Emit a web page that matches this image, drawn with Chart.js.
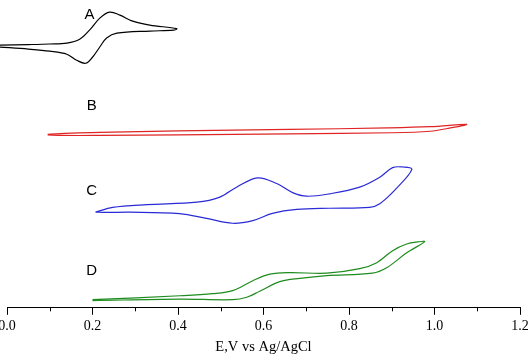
<!DOCTYPE html>
<html>
<head>
<meta charset="utf-8">
<script src="https://cdn.jsdelivr.net/npm/chart.js@4.4.1/dist/chart.umd.min.js"></script>
<style>
  body { margin: 0; background: #fff; }
</style>
</head>
<body>
<canvas id="cvChart" width="530" height="358"></canvas>
<script>
// Curve A (black)
var aX = [-0.017, 0.05, 0.10, 0.14, 0.17, 0.193, 0.217, 0.240, 0.264, 0.294, 0.334, 0.397,
          0.39, 0.334, 0.257, 0.233, 0.217, 0.200, 0.184, 0.163, 0.14, 0.10, 0.05, -0.017];
var aY = [87.3, 87.5, 87.7, 88.0, 89.3, 92.3, 96.3, 98.3, 97.3, 95.3, 94.0, 92.8,
          92.3, 92.0, 91.3, 89.7, 86.7, 83.3, 81.3, 82.3, 84.3, 85.3, 86.0, 86.7];

// Curve B (red)
var bX = [0.095, 0.15, 0.217, 0.40, 0.661, 0.89, 0.99, 1.075,
          1.03, 0.99, 0.90, 0.661, 0.40, 0.217, 0.13, 0.095];
var bY = [57.7, 58.1, 58.3, 58.8, 59.3, 59.8, 60.2, 61.0,
          59.6, 58.7, 58.2, 57.8, 57.5, 57.3, 57.3, 57.5];

// Curve C (blue)
var cX = [0.207, 0.247, 0.327, 0.444, 0.498, 0.537, 0.586, 0.631, 0.668, 0.701, 0.755, 0.825, 0.872, 0.902, 0.926, 0.947,
          0.911, 0.872, 0.848, 0.755, 0.678, 0.621, 0.575, 0.528, 0.467, 0.404, 0.287, 0.23, 0.207];
var cY = [31.8, 33.4, 34.3, 35.1, 36.8, 40.1, 43.2, 41.3, 38.3, 37.1, 37.9, 40.1, 43.4, 46.6, 46.8, 46.0,
          39.7, 34.6, 33.4, 33.1, 32.7, 31.4, 29.0, 28.1, 29.7, 31.3, 31.8, 31.7, 31.8];

// Curve D (green)
var dX = [0.2, 0.404, 0.481, 0.528, 0.575, 0.615, 0.661, 0.748, 0.825, 0.865, 0.902, 0.935, 0.961, 0.977,
          0.935, 0.888, 0.855, 0.748, 0.685, 0.638, 0.591, 0.561, 0.528, 0.404, 0.2];
var dY = [2.7, 4.0, 4.7, 5.7, 9.0, 11.2, 11.7, 11.5, 13.0, 15.0, 19.0, 21.2, 21.9, 22.0,
          18.3, 13.3, 11.5, 10.7, 9.8, 8.7, 5.5, 3.5, 2.7, 2.9, 2.4];

var xTicks = [0.0, 0.2, 0.4, 0.6, 0.8, 1.0, 1.2];
var xMinorTicks = [0.1, 0.3, 0.5, 0.7, 0.9, 1.1];

var curveNames = ['A', 'B', 'C', 'D'];
var nameX = [0.193, 0.198, 0.198, 0.198];
var nameY = [97.3, 67.0, 39.0, 12.3];

function toPoints(xs, ys) {
    return xs.map(function(x, i) { return { x: x, y: ys[i] }; });
}

function curve(xs, ys, color) {
    return {
        data: toPoints(xs, ys),
        showLine: true,
        borderColor: color,
        borderWidth: 1.2,
        pointRadius: 0,
        tension: 0.35,
        clip: false
    };
}

// minor ticks on x axis + curve names
var extras = {
    id: 'extras',
    afterDraw: function(chart) {
        var ctx = chart.ctx;
        var xs = chart.scales.x;
        var ys = chart.scales.y;
        var bottom = chart.chartArea.bottom;
        ctx.save();
        ctx.strokeStyle = '#000';
        ctx.lineWidth = 1;
        xMinorTicks.forEach(function(v) {
            var px = Math.round(xs.getPixelForValue(v)) + 0.5;
            ctx.beginPath();
            ctx.moveTo(px, bottom);
            ctx.lineTo(px, bottom + 3.5);
            ctx.stroke();
        });
        ctx.fillStyle = '#000';
        ctx.font = '15px "Liberation Sans", Arial, sans-serif';
        ctx.textAlign = 'center';
        ctx.textBaseline = 'middle';
        curveNames.forEach(function(n, i) {
            ctx.fillText(n, xs.getPixelForValue(nameX[i]), ys.getPixelForValue(nameY[i]));
        });
        ctx.restore();
    }
};

var ctx = document.getElementById('cvChart').getContext('2d');
var myChart = new Chart(ctx, {
    type: 'scatter',
    data: {
        datasets: [
            curve(aX, aY, '#000000'),
            curve(bX, bY, '#e02424'),
            curve(cX, cY, '#2a2ad6'),
            curve(dX, dY, '#1e8c1e')
        ]
    },
    options: {
        responsive: false,
        animation: false,
        layout: { padding: { left: 7, right: 10, top: 7, bottom: 2 } },
        plugins: {
            legend: { display: false },
            tooltip: { enabled: false }
        },
        scales: {
            x: {
                type: 'linear',
                min: 0,
                max: 1.2,
                afterBuildTicks: function(scale) {
                    scale.ticks = xTicks.map(function(v) { return { value: v }; });
                },
                afterFit: function(scale) {
                    scale.paddingLeft = 0;
                    scale.paddingRight = 0;
                },
                grid: {
                    drawOnChartArea: false,
                    drawTicks: true,
                    tickLength: 7,
                    color: '#000'
                },
                border: { display: true, color: '#000', width: 1 },
                ticks: {
                    color: '#000',
                    padding: 3,
                    maxRotation: 0,
                    font: { family: '"Liberation Serif", "Times New Roman", serif', size: 14 },
                    callback: function(v) { return v.toFixed(1); }
                },
                title: {
                    display: true,
                    text: 'E,V vs Ag/AgCl',
                    color: '#000',
                    padding: { top: 1, bottom: 0 },
                    font: { family: '"Liberation Serif", "Times New Roman", serif', size: 14.5 }
                }
            },
            y: {
                display: false,
                min: 0,
                max: 100
            }
        }
    },
    plugins: [extras]
});
</script>
</body>
</html>
